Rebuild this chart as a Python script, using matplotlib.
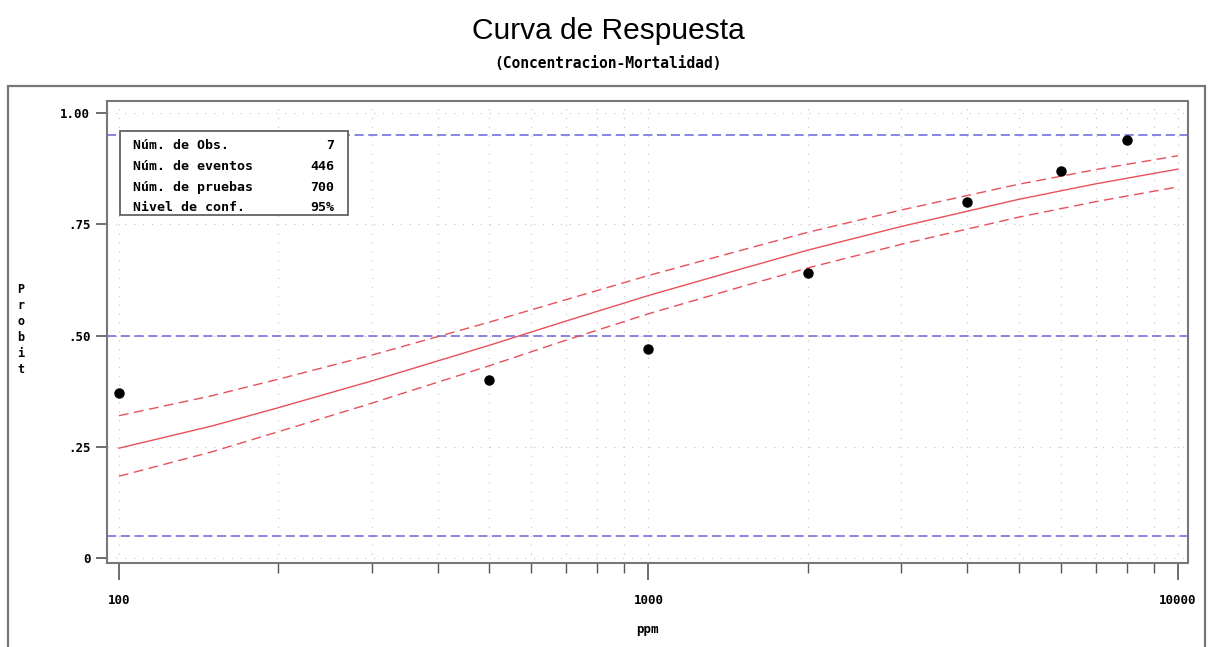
import matplotlib
matplotlib.use("Agg")
import matplotlib.pyplot as plt
from matplotlib.patches import Rectangle
from matplotlib.ticker import FixedLocator, NullFormatter, LogLocator

# observed points (ppm, proportion dead)
ppm = [100, 500, 1000, 2000, 4000, 6000, 8000]
probit_obs = [0.37, 0.40, 0.47, 0.64, 0.80, 0.87, 0.94]

# fitted curve and confidence band
curve_x = [100, 150, 200, 300, 500, 700, 1000, 1500, 2000, 3000, 5000, 7000, 10000]
curve_fit = [0.247, 0.297, 0.338, 0.398, 0.478, 0.533, 0.590, 0.650, 0.692, 0.745, 0.806, 0.841, 0.874]
curve_up = [0.320, 0.365, 0.402, 0.456, 0.530, 0.581, 0.635, 0.692, 0.732, 0.782, 0.840, 0.873, 0.904]
curve_lo = [0.184, 0.239, 0.284, 0.348, 0.432, 0.490, 0.549, 0.610, 0.652, 0.705, 0.766, 0.801, 0.834]

ref_levels = [0.05, 0.50, 0.95]

y_ticks = [0, 0.25, 0.50, 0.75, 1.00]
y_labels = ["0", ".25", ".50", ".75", "1.00"]
x_ticks = [100, 1000, 10000]
x_labels = ["100", "1000", "10000"]

stats_names = ["Núm. de Obs.", "Núm. de eventos", "Núm. de pruebas", "Nivel de conf."]
stats_values = ["7", "446", "700", "95%"]

mono = "DejaVu Sans Mono"

fig = plt.figure(figsize=(12.14, 6.47), dpi=100)
ax = fig.add_axes([0.0881, 0.1298, 0.8905, 0.7141])

# outer frame
fig.patches.append(Rectangle((8 / 1214, -0.05), 1197 / 1214, 1 - 86 / 647 + 0.05,
                             transform=fig.transFigure, fill=False,
                             edgecolor="#777777", linewidth=1.6))

ax.set_xscale("log")
ax.set_xlim(94.9, 10445)
ax.set_ylim(-0.011, 1.027)

for lev in ref_levels:
    ax.axhline(lev, color="#6666dd", linestyle=(0, (6, 3)), linewidth=1.1, zorder=2)

ax.plot(curve_x, curve_fit, color="#e8505a", linewidth=1.0, zorder=3)
ax.plot(curve_x, curve_up, color="#e8505a", linewidth=1.0, linestyle=(0, (7, 4)), zorder=3)
ax.plot(curve_x, curve_lo, color="#e8505a", linewidth=1.0, linestyle=(0, (7, 4)), zorder=3)

ax.plot(ppm, probit_obs, "o", color="black", markersize=6.5, zorder=4)

# ticks
ax.xaxis.set_major_locator(FixedLocator(x_ticks))
ax.xaxis.set_minor_locator(LogLocator(base=10, subs=range(2, 10)))
ax.xaxis.set_minor_formatter(NullFormatter())
ax.set_xticks(x_ticks)
ax.set_xticklabels(x_labels, fontfamily=mono, fontweight="bold", fontsize=9)
ax.set_yticks(y_ticks)
ax.set_yticklabels(y_labels, fontfamily=mono, fontweight="bold", fontsize=9)
ax.tick_params(axis="x", which="major", direction="out", length=12, width=1.2,
               color="#555555", pad=10)
ax.tick_params(axis="x", which="minor", direction="out", length=7, width=1.0,
               color="#555555")
ax.tick_params(axis="y", which="major", direction="out", length=8, width=1.2,
               color="#555555", pad=4)

ax.grid(True, which="both", axis="x", color="#c4c4c4", linestyle=(0, (1, 7)), linewidth=0.8)
ax.grid(True, which="major", axis="y", color="#c4c4c4", linestyle=(0, (1, 7)), linewidth=0.8)

for s in ax.spines.values():
    s.set_color("#777777")
    s.set_linewidth(1.5)

ax.set_xlabel("ppm", fontfamily=mono, fontweight="bold", fontsize=9, labelpad=12)

# stacked y label
fig.text(21 / 1214, 1 - 330 / 647, "P\nr\no\nb\ni\nt", ha="center", va="center",
         fontfamily=mono, fontweight="bold", fontsize=8.5, linespacing=1.3)

# title
fig.text(0.501, 1 - 31 / 647, "Curva de Respuesta", ha="center", va="center",
         fontsize=21.5, family=["Liberation Sans"])
fig.text(0.501, 1 - 64 / 647, "(Concentracion-Mortalidad)", ha="center", va="center",
         fontfamily=mono, fontweight="bold", fontsize=10.5)

# stats box
ax.add_patch(Rectangle((0.012, 0.753), 0.211, 0.182, transform=ax.transAxes,
                       fill=True, facecolor="white", edgecolor="#555555",
                       linewidth=1.2, zorder=5))
rows_y = [0.903, 0.858, 0.813, 0.770]
for name, val, yy in zip(stats_names, stats_values, rows_y):
    ax.text(0.024, yy, name, transform=ax.transAxes, ha="left", va="center",
            fontfamily=mono, fontweight="bold", fontsize=9.5, zorder=6)
    ax.text(0.210, yy, val, transform=ax.transAxes, ha="right", va="center",
            fontfamily=mono, fontweight="bold", fontsize=9.5, zorder=6)

fig.savefig("out.png", dpi=100)
